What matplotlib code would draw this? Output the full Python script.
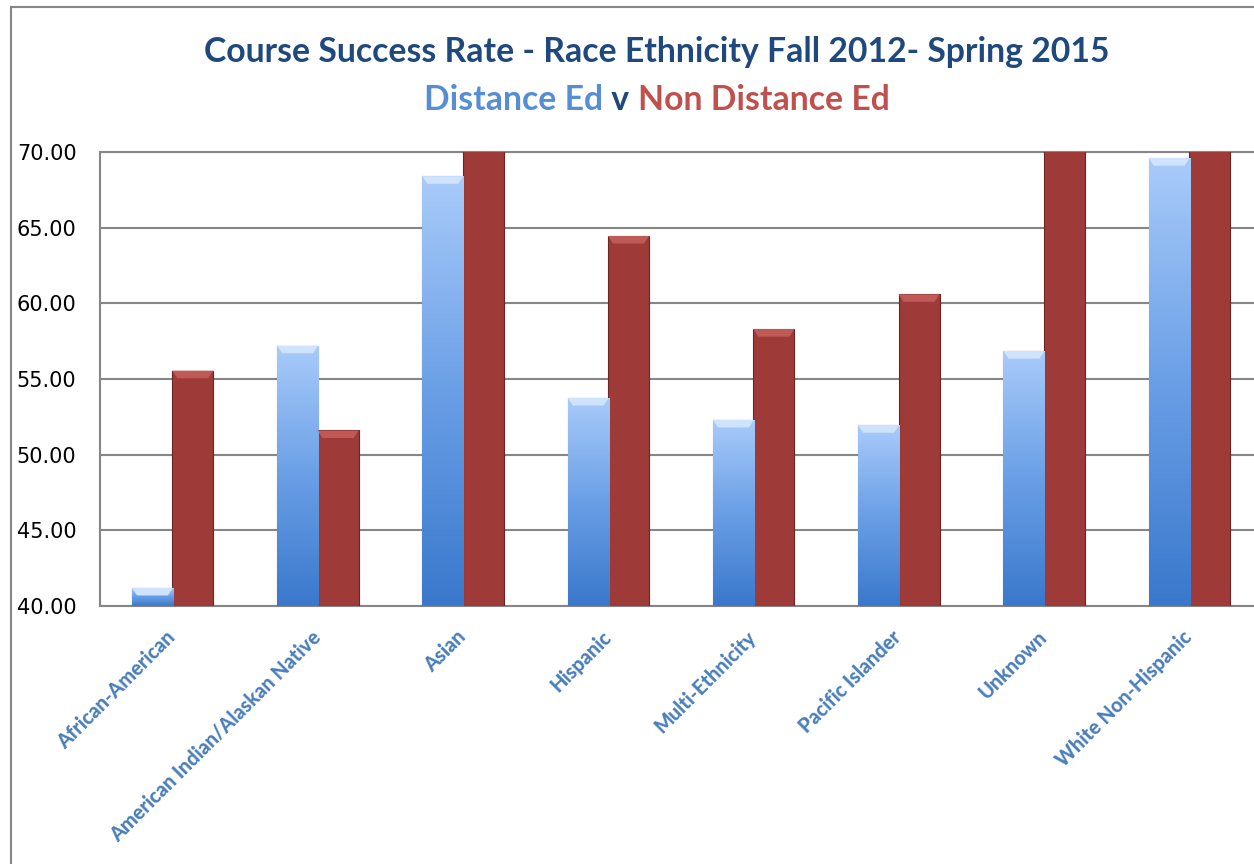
import numpy as np
import matplotlib
matplotlib.use("Agg")
import matplotlib.pyplot as plt
from matplotlib.lines import Line2D
from matplotlib.colors import LinearSegmentedColormap
from matplotlib.transforms import offset_copy

categories = ["African-American", "American Indian/Alaskan Native", "Asian", "Hispanic",
              "Multi-Ethnicity", "Pacific Islander", "Unknown", "White Non-Hispanic"]
distance_ed = [41.2, 57.2, 68.4, 53.75, 52.3, 51.95, 56.85, 69.6]
non_distance_ed = [55.55, 51.6, 71.5, 64.45, 58.3, 60.6, 72.0, 73.0]
yticks = [40, 45, 50, 55, 60, 65, 70]

W, H = 1254, 864
fig = plt.figure(figsize=(W / 100, H / 100), dpi=100)
fig.patch.set_facecolor("white")

ax = fig.add_axes([100 / W, (H - 606) / H, 1162 / W, 454 / H])

x = np.arange(len(categories))
bw = 0.283
off = 0.139

blue_cmap = LinearSegmentedColormap.from_list("b", ["#3A78CC", "#6A9FE6", "#A9CBFA"])
grad = np.linspace(0, 1, 256).reshape(-1, 1)

blue_bars = ax.bar(x - off, [v - 40 for v in distance_ed], bw, bottom=40,
                   color="#6FA2E8", edgecolor="#4A76B0", linewidth=0.8, zorder=3)
for b in blue_bars:
    x0, y0 = b.get_x(), b.get_y()
    im = ax.imshow(grad, cmap=blue_cmap, origin="lower", aspect="auto",
                   extent=[x0, x0 + b.get_width(), y0, y0 + b.get_height()], zorder=3.5)
    im.set_clip_path(b)
    h = y0 + b.get_height()
    ax.fill([x0, x0 + b.get_width(), x0 + b.get_width() - 0.035, x0 + 0.035],
            [h, h, h - 0.5, h - 0.5], color="#CFE3FC", zorder=3.6, lw=0)

red_bars = ax.bar(x + off, [v - 40 for v in non_distance_ed], bw, bottom=40,
                  color="#9E3B39", edgecolor="#6E2422", linewidth=0.8, zorder=3)
for b in red_bars:
    x0, y0 = b.get_x(), b.get_y()
    h = y0 + b.get_height()
    if h < 70:
        ax.fill([x0, x0 + b.get_width(), x0 + b.get_width() - 0.035, x0 + 0.035],
                [h, h, h - 0.5, h - 0.5], color="#C05A57", zorder=3.6, lw=0)

ax.set_xlim(-0.5, len(categories) - 0.5)
ax.set_ylim(40, 70)
ax.set_yticks(yticks)
ax.set_yticklabels([f"{v:.2f}" for v in yticks], fontsize=15, color="black",
                   family="DejaVu Sans")
ax.tick_params(axis="y", length=0, pad=17)
ax.tick_params(axis="x", length=0)
ax.set_xticks(x)
ax.set_xticklabels([])
ax.grid(axis="y", color="#868686", linewidth=1.5, zorder=1)
for s in ax.spines.values():
    s.set_color("#868686")
    s.set_linewidth(1.5)

trans = offset_copy(ax.get_xaxis_transform(), fig=fig, x=6, y=-21, units="dots")
for xi, lab in zip(x, categories):
    ax.text(xi, 0, lab, transform=trans, rotation=45, ha="right", va="top",
            fontsize=14.3, fontweight=900, color="#4A7EBB", family="Lato")

# chart border
fig.add_artist(Line2D([10.5 / W, 10.5 / W], [0, 1 - 7 / H], color="#868686", lw=1.5))
fig.add_artist(Line2D([10.5 / W, 1], [1 - 7 / H, 1 - 7 / H], color="#868686", lw=1.5))

# titles
fig.text(657 / W, 1 - 52 / H, "Course Success Rate - Race Ethnicity Fall 2012- Spring 2015",
         ha="center", va="center", fontsize=24.3, fontweight="bold", color="#1F497D", family="Lato")

parts = [("Distance Ed", "#558ED5"), (" v ", "#1F497D"), ("Non Distance Ed", "#C0504D")]
fig.canvas.draw()
r = fig.canvas.get_renderer()
texts = [fig.text(0, 1 - 100 / H, t, ha="left", va="center", fontsize=24.3, fontweight="bold",
                  color=c, family="Lato") for t, c in parts]
widths = [t.get_window_extent(r).width for t in texts]
total = sum(widths)
cur = 657 - total / 2
for t, w in zip(texts, widths):
    t.set_x(cur / W)
    cur += w

fig.savefig("out.png", dpi=100)
